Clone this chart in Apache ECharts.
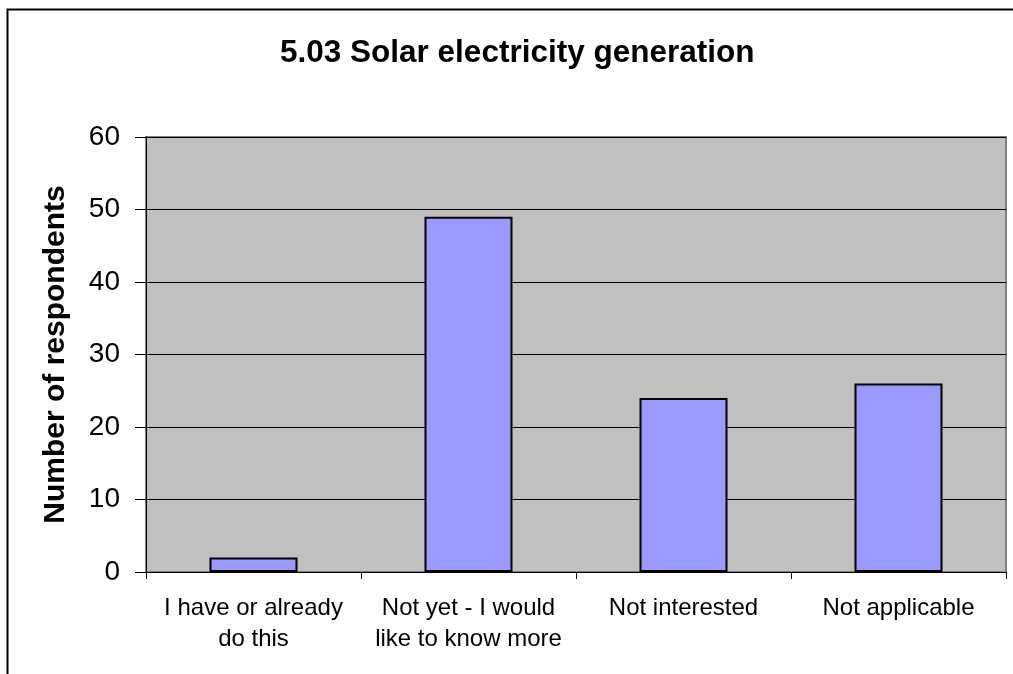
<!DOCTYPE html>
<html><head><meta charset="utf-8">
<script src="https://cdn.jsdelivr.net/npm/echarts@6/dist/echarts.min.js"></script>
<style>html,body{margin:0;padding:0;background:#fff}#c{width:1013px;height:674px}</style>
</head><body><div id="c"></div>
<script>
const categories = ['I have or already\ndo this', 'Not yet - I would\nlike to know more', 'Not interested', 'Not applicable'];
const values = [2, 49, 24, 26];
const yTicks = [0, 10, 20, 30, 40, 50, 60];

const chart = echarts.init(document.getElementById('c'));
chart.setOption({
  animation: false,
  backgroundColor: '#fff',
  title: {
    text: '5.03 Solar electricity generation',
    left: 275, top: 32,
    textStyle: {fontFamily: 'Liberation Sans, Arial', fontSize: 31.5, fontWeight: 'bold', color: '#000'}
  },
  graphic: [
    {type: 'polyline', shape: {points: [[7.5, 674], [7.5, 9.5], [1013, 9.5]]},
      style: {stroke: '#000', lineWidth: 2, fill: null}, z: 10}
  ],
  grid: {left: 146, right: 7, top: 137, bottom: 102, show: true,
    backgroundColor: '#c0c0c0', borderColor: '#808080', borderWidth: 2},
  xAxis: {
    type: 'category', data: categories,
    axisLine: {lineStyle: {color: '#000', width: 1}},
    axisTick: {show: true, alignWithLabel: false, length: 7, lineStyle: {color: '#000'}, inside: false},
    axisLabel: {interval: 0, hideOverlap: false, fontFamily: 'Liberation Sans, Arial', fontSize: 24, color: '#000', lineHeight: 31, margin: 21}
  },
  yAxis: {
    type: 'value', min: 0, max: 60, interval: 10,
    name: 'Number of respondents', nameLocation: 'middle', nameGap: 75,
    nameTextStyle: {fontFamily: 'Liberation Sans, Arial', fontSize: 30, fontWeight: 'bold', color: '#000'},
    axisLine: {show: true, lineStyle: {color: '#000'}},
    axisTick: {show: true, length: 11, lineStyle: {color: '#000'}},
    axisLabel: {fontFamily: 'Liberation Sans, Arial', fontSize: 28, color: '#000', margin: 26,
      formatter: v => yTicks.includes(v) ? String(v) : ''},
    splitLine: {lineStyle: {color: '#000', width: 1}}
  },
  series: [{
    type: 'bar', data: values, barWidth: 88,
    itemStyle: {color: '#9999ff', borderColor: '#000', borderWidth: 2}
  }]
});
</script></body></html>
